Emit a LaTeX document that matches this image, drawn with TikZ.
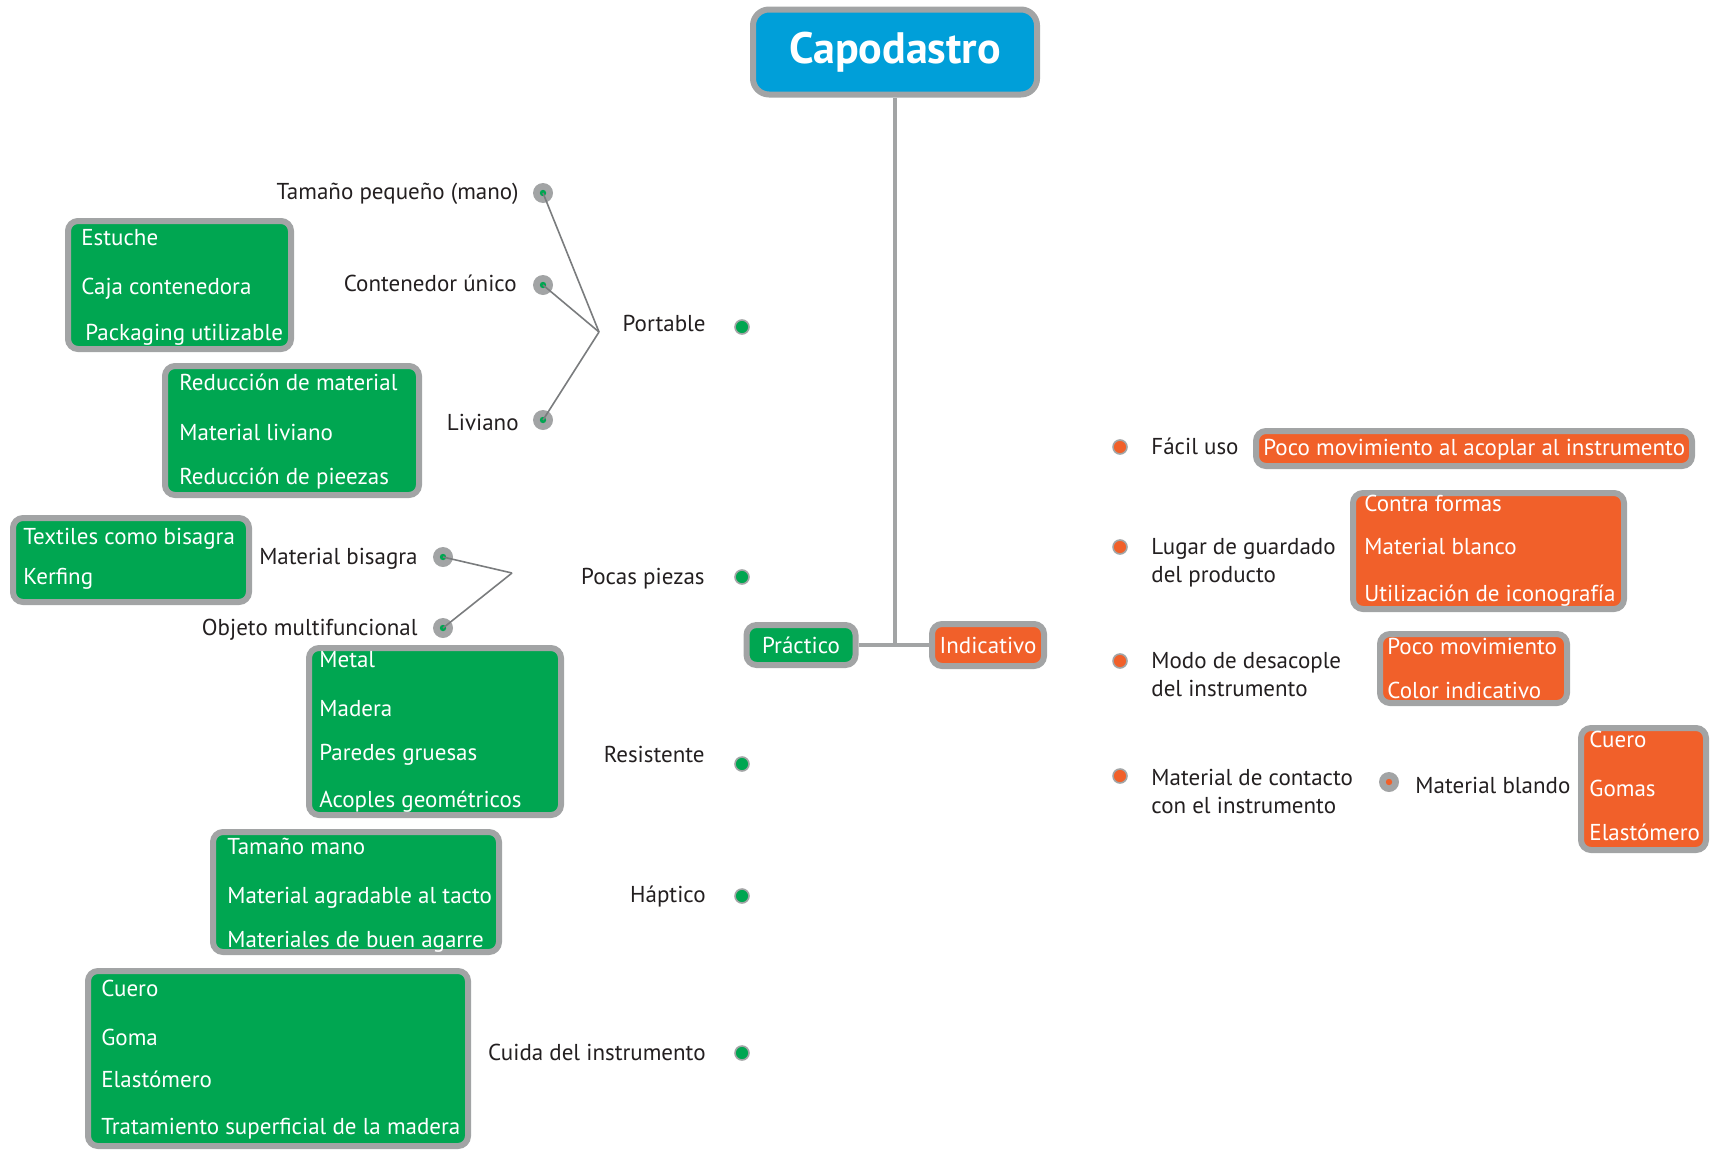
\documentclass[tikz,border=0pt]{standalone}
\usepackage{fontspec}
\setmainfont{PT Sans}
\usetikzlibrary{fit}
\definecolor{gr}{HTML}{00A651}
\definecolor{og}{HTML}{F1602A}
\definecolor{bl}{HTML}{009FD9}
\definecolor{bd}{HTML}{A2A4A5}
\definecolor{ln}{HTML}{7A7C7E}
\definecolor{tx}{HTML}{231F20}
\tikzset{
 body/.style={font=\fontsize{11.5}{14}\selectfont},
 frame/.style={draw=bd, line width=3pt, rounded corners=5pt, inner sep=0pt},
 gbox/.style={frame, fill=gr},
 obox/.style={frame, fill=og},
 wt/.style={body, anchor=base west, yshift=-3.5pt, text=white, inner sep=0pt},
 lab/.style={body, anchor=base east, yshift=-3.5pt, text=tx, inner sep=0pt},
 labw/.style={body, anchor=base west, yshift=-3.5pt, text=tx, inner sep=0pt},
 labm/.style={body, anchor=north west, text=tx, inner sep=0pt, align=left},
 gdot/.style={circle, fill=gr, draw=bd, line width=0.8pt, minimum size=7pt, inner sep=0pt},
 odot/.style={circle, fill=og, draw=bd, line width=0.8pt, minimum size=7pt, inner sep=0pt},
 sdot/.style={circle, fill=bd, minimum size=10pt, inner sep=0pt,
   path picture={\fill[#1] (path picture bounding box.center) circle (1.6pt);}},
 sdot/.default=gr,
 conn/.style={draw=ln, line width=0.8pt},
 trunk/.style={draw=bd, line width=2pt},
}
\begin{document}
\begin{tikzpicture}[x=0.5pt, y=-0.5pt]
\useasboundingbox (0,0) rectangle (1711,1151);

% ---- title and main branches
\node[frame, fill=bl, rounded corners=8pt, minimum width=142pt, minimum height=42.5pt,
      text=white, font=\fontsize{22}{26}\selectfont\bfseries] (title) at (895,52) {Capodastro};
\node[gbox, minimum width=54.5pt, minimum height=20pt, text=white, body] (prac) at (801,645) {Práctico};
\node[obox, minimum width=56pt, minimum height=21pt, text=white, body] (ind) at (988,645) {Indicativo};
\coordinate (jt) at (895,645);
\draw[trunk] (title.south) -- (jt);
\draw[trunk] (prac.east) -- (ind.west);

% ---- left: main criteria
\node[gdot] (dport) at (742,327) {};
\node[gdot] (dpoc) at (742,577) {};
\node[gdot] (dres) at (742,764) {};
\node[gdot] (dhap) at (742,896) {};
\node[gdot] (dcui) at (742,1053) {};
\node[lab] (lport) at (706,324) {Portable};
\node[lab] (lpoc) at (705,577) {Pocas piezas};
\node[lab] (lres) at (705,755) {Resistente};
\node[lab] (lhap) at (706,895) {Háptico};
\node[lab] (lcui) at (706,1053) {Cuida del instrumento};

% ---- Portable sub-branches
\coordinate (jp) at (599,332);
\node[sdot] (s1) at (543,193) {};
\node[sdot] (s2) at (543,285) {};
\node[sdot] (s3) at (543,420) {};
\draw[conn] (s1.center) -- (jp);
\draw[conn] (s2.center) -- (jp);
\draw[conn] (s3.center) -- (jp);
\node[lab] (l1) at (519,192) {Tamaño pequeño (mano)};
\node[lab] (l2) at (517,284) {Contenedor único};
\node[lab] (l3) at (519,423) {Liviano};

% ---- Pocas piezas sub-branches
\coordinate (jq) at (512,573);
\node[sdot] (s4) at (443,557) {};
\node[sdot] (s5) at (443,628) {};
\draw[conn] (s4.center) -- (jq);
\draw[conn] (s5.center) -- (jq);
\node[lab] (l4) at (418,557) {Material bisagra};
\node[lab] (l5) at (418,628) {Objeto multifuncional};

% ---- green boxes
\node[gbox, fit={(68,221) (291,349)}] (b1) {};
\node[wt] at (81,238) {Estuche};
\node[wt] at (81,287) {Caja contenedora};
\node[wt] at (85,333) {Packaging utilizable};

\node[gbox, fit={(165,366) (419,495)}] (b2) {};
\node[wt] at (179,383) {Reducción de material};
\node[wt] at (179,433) {Material liviano};
\node[wt] at (179,477) {Reducción de pieezas};

\node[gbox, fit={(13,518) (249,602)}] (b3) {};
\node[wt] at (23,537) {Textiles como bisagra};
\node[wt] at (23,577) {Kerfing};

\node[gbox, fit={(309,648) (561,815)}] (b4) {};
\node[wt] at (319,660) {Metal};
\node[wt] at (319,709) {Madera};
\node[wt] at (319,753) {Paredes gruesas};
\node[wt] at (319,800) {Acoples geométricos};

\node[gbox, fit={(213,832) (499,952)}] (b5) {};
\node[wt] at (227,847) {Tamaño mano};
\node[wt] at (227,896) {Material agradable al tacto};
\node[wt] at (227,940) {Materiales de buen agarre};

\node[gbox, fit={(88,971) (468,1146)}] (b6) {};
\node[wt] at (101,989) {Cuero};
\node[wt] at (101,1038) {Goma};
\node[wt] at (101,1080) {Elastómero};
\node[wt] at (101,1127) {Tratamiento superficial de la madera};

% ---- right: Indicativo
\node[odot] (d1) at (1120,447) {};
\node[odot] (d2) at (1120,547) {};
\node[odot] (d3) at (1120,661) {};
\node[odot] (d4) at (1120,776) {};
\node[labw] (r1) at (1151,447) {Fácil uso};
\node[labm] (r2) at (1151,538) {Lugar de guardado\\del producto};
\node[labm] (r3) at (1151,652) {Modo de desacople\\del instrumento};
\node[labm] (r4) at (1151,769) {Material de contacto\\con el instrumento};

\node[obox, fit={(1256,431) (1692,466)}] (o1) {};
\node[wt] at (1263,448) {Poco movimiento al acoplar al instrumento};

\node[obox, fit={(1353,493) (1624,609)}] (o2) {};
\node[wt] at (1364,504) {Contra formas};
\node[wt] at (1364,547) {Material blanco};
\node[wt] at (1364,594) {Utilización de iconografía};

\node[obox, fit={(1380,634) (1567,703)}] (o3) {};
\node[wt] at (1387,647) {Poco movimiento};
\node[wt] at (1387,691) {Color indicativo};

\node[sdot=og] (s6) at (1389,782) {};
\node[labw] (l6) at (1415,786) {Material blando};

\node[obox, fit={(1581,728) (1706,850)}] (o4) {};
\node[wt] at (1589,740) {Cuero};
\node[wt] at (1589,789) {Gomas};
\node[wt] at (1589,833) {Elastómero};
\end{tikzpicture}
\end{document}
